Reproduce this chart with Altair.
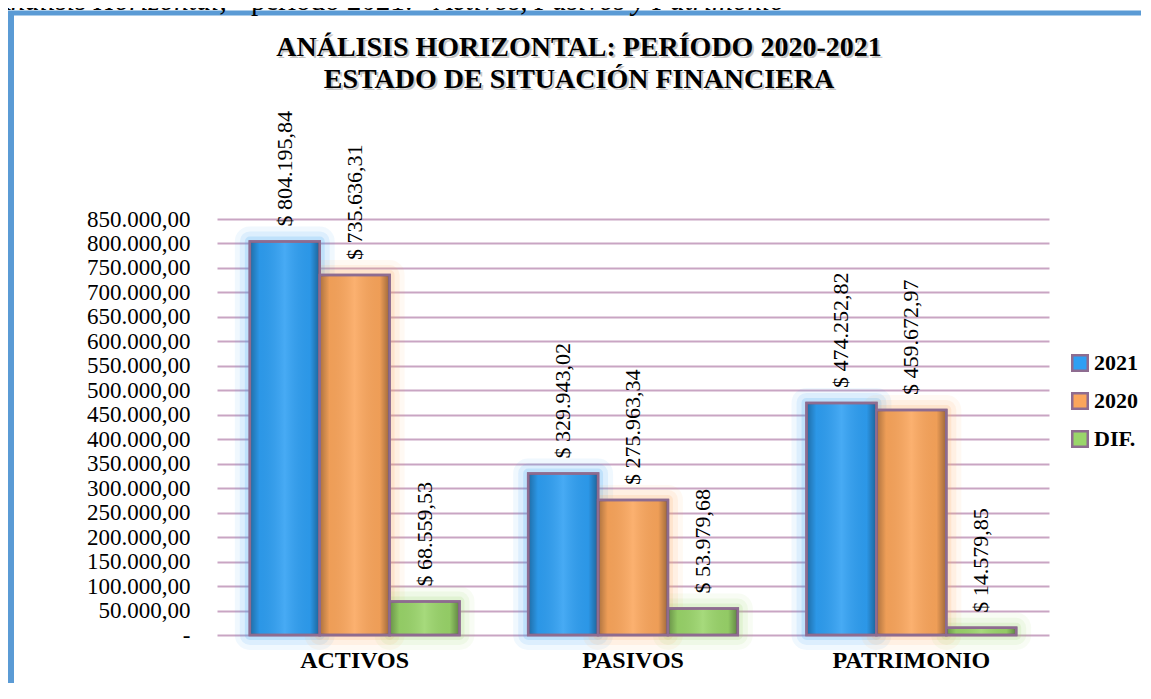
import altair as alt
import pandas as pd

categories = ["ACTIVOS", "PASIVOS", "PATRIMONIO"]
series = ["2021", "2020", "DIF."]
v2021 = [804195.84, 329943.02, 474252.82]
v2020 = [735636.31, 275963.34, 459672.97]
vdif = [68559.53, 53979.68, 14579.85]
y_ticks = list(range(0, 850001, 50000))
colors = ["#2E9FF3", "#FBA65C", "#9AD56A"]

title_lines = ["ANÁLISIS HORIZONTAL: PERÍODO 2020-2021", "ESTADO DE SITUACIÓN FINANCIERA"]
caption_parts = ["Análisis Horizontal,", "período 2021:", "Activos, Pasivos y Patrimonio"]


def es_money(v):
    s = f"{v:,.2f}".replace(",", "#").replace(".", ",").replace("#", ".")
    return "$ " + s


rows = []
for i, c in enumerate(categories):
    for s, vals in zip(series, [v2021, v2020, vdif]):
        rows.append({"cat": c, "serie": s, "valor": vals[i], "label": es_money(vals[i])})
df = pd.DataFrame(rows)

W, H = 832, 416
SERIF = "Liberation Serif"
MAUVE = "#8E6C90"

x_enc = alt.X("cat:N", sort=categories,
              scale=alt.Scale(paddingInner=0.247, paddingOuter=0.118),
              axis=alt.Axis(title=None, labelAngle=0, labelFont=SERIF, labelFontSize=24,
                            labelFontWeight="bold", labelColor="#000000", labelPadding=13,
                            ticks=False, domain=False, grid=False))
xo_enc = alt.XOffset("serie:N", sort=series, scale=alt.Scale(paddingInner=0))
y_enc = alt.Y("valor:Q", scale=alt.Scale(domain=[0, 850000], nice=False),
              axis=alt.Axis(title=None, values=y_ticks, labelFont=SERIF, labelFontSize=23,
                            labelColor="#000000", labelPadding=27, ticks=False, domain=False,
                            gridColor="#C9A5C3", gridWidth=2, gridOpacity=1,
                            labelExpr="datum.value == 0 ? '-' : replace(replace(replace(format(datum.value, ',.2f'), regexp(',', 'g'), '#'), regexp('[.]', 'g'), ','), regexp('#', 'g'), '.')"))
cscale = alt.Scale(domain=series, range=colors)

base = alt.Chart(df)

glows = []
for s, col in zip(series, colors):
    for sw, so in [(30, 0.07), (20, 0.10), (10, 0.16)]:
        glows.append(base.transform_filter(alt.datum.serie == s).mark_bar(
            stroke=col, strokeWidth=sw, strokeOpacity=so, fillOpacity=0.0, strokeJoin="round"
        ).encode(x=x_enc, xOffset=xo_enc, y=y_enc))

bars = base.mark_bar(stroke=MAUVE, strokeWidth=2.5).encode(
    x=x_enc, xOffset=xo_enc, y=y_enc,
    color=alt.Color("serie:N", scale=cscale, sort=series,
                    legend=alt.Legend(title=None, orient="none", legendX=852, legendY=133,
                                      symbolType="square", symbolSize=240,
                                      symbolStrokeColor=MAUVE, symbolStrokeWidth=2.5,
                                      labelFont=SERIF, labelFontSize=22, labelFontWeight="bold",
                                      labelColor="#000000", rowPadding=12, labelOffset=3)))

shade_h = base.mark_bar(
    fill=alt.Gradient(gradient="linear", x1=0, x2=1, y1=0, y2=0,
                      stops=[alt.GradientStop(color="rgba(0,0,0,0.32)", offset=0),
                             alt.GradientStop(color="rgba(0,0,0,0.05)", offset=0.14),
                             alt.GradientStop(color="rgba(255,255,255,0.12)", offset=0.5),
                             alt.GradientStop(color="rgba(0,0,0,0.05)", offset=0.86),
                             alt.GradientStop(color="rgba(0,0,0,0.38)", offset=1)]),
    stroke=MAUVE, strokeWidth=2.5).encode(x=x_enc, xOffset=xo_enc, y=y_enc)

labels = base.mark_text(angle=270, align="left", baseline="middle", dx=15,
                        font=SERIF, fontSize=22, color="#000000").encode(
    x=x_enc, xOffset=xo_enc, y=y_enc, text="label:N")

one = alt.Data(values=[{"k": 1}])

frame_top = alt.Chart(one).mark_rule(color="#5B9BD5", strokeWidth=5).encode(
    x=alt.value(-215), x2=alt.value(930), y=alt.value(-206))
frame_left = alt.Chart(one).mark_rule(color="#5B9BD5", strokeWidth=6).encode(
    x=alt.value(-206), y=alt.value(-208), y2=alt.value(480))

cap_style = dict(align="left", baseline="alphabetic", font=SERIF, fontSize=29, color="#000000")
cap1 = alt.Chart(one).mark_text(fontStyle="italic", **cap_style).encode(
    x=alt.value(-224), y=alt.value(-209), text=alt.value(caption_parts[0]))
cap2 = alt.Chart(one).mark_text(**cap_style).encode(
    x=alt.value(34), y=alt.value(-209), text=alt.value(caption_parts[1]))
cap3 = alt.Chart(one).mark_text(fontStyle="italic", **cap_style).encode(
    x=alt.value(218), y=alt.value(-209), text=alt.value(caption_parts[2]))

t_layers = []
for i, t in enumerate(title_lines):
    yy = -163 + i * 32
    t_layers.append(alt.Chart(one).mark_text(align="center", baseline="alphabetic", font=SERIF,
                                             fontSize=28, fontWeight="bold", color="#9A9A9A",
                                             opacity=0.55).encode(
        x=alt.value(364), y=alt.value(yy + 2), text=alt.value(t)))
    t_layers.append(alt.Chart(one).mark_text(align="center", baseline="alphabetic", font=SERIF,
                                             fontSize=28, fontWeight="bold", color="#000000").encode(
        x=alt.value(362), y=alt.value(yy), text=alt.value(t)))

chart = alt.layer(frame_top, frame_left, cap1, cap2, cap3, *t_layers,
                  *glows, bars, shade_h, labels).properties(
    width=W, height=H,
    autosize=alt.AutoSizeParams(type="none"),
    padding={"left": 209, "top": 211, "right": 92, "bottom": 48},
).configure(background="#FFFFFF").configure_view(stroke=None)

chart.save("out.html", embed_options={"renderer": "svg", "actions": False})
